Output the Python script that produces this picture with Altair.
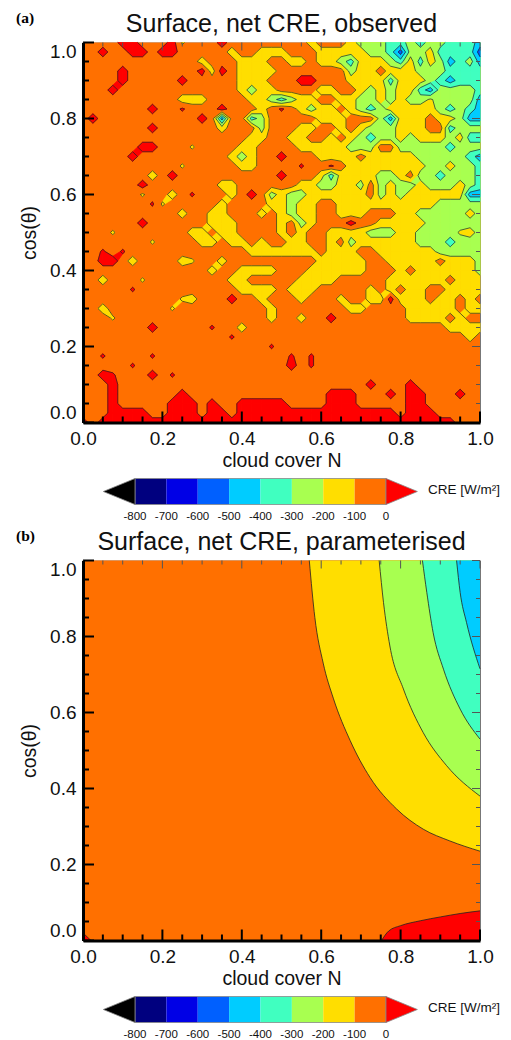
import altair as alt
import pandas as pd

alt.data_transformers.disable_max_rows()

# Panel (a): colour band read at each node of a 0.025 grid, top row cos=1.0 first.
# 0: >0, 1: -100..0, 2: -200..-100, 3: -300..-200, ... ; letters mark nodes only just
# inside a band (a: red, y: yellow, o: orange, w: yellow next to green).
BANDS_A = [
"1111001110y11101111"+"1111211123334434334445",
"1101100100111112112"+"2211122222334633244446",
"1111111111112111222"+"1122122342223424235435",
"1111011111110201222"+"2111111132212223334444",
"1111011111011111222"+"1110011122224222345444",
"1110111111111111232"+"2111122112323224533334",
"1111111111222111122"+"3432211223323233w33335",
"1111111011a11101112"+"1a12322123432222234345",
"1011111111110151143"+"1111122211135222122355",
"1111111011111121113"+"1112211212333222114333",
"1111111111111111122"+"1122112123433232223244",
"11111100111y1111221"+"1112222233311333334333",
"1111101111111112321"+"1011122221222223333345",
"1111111111y11111221"+"111a11a122222222332334",
"1111111210111111111"+"1011124222233213343334",
"1111110111111122111"+"1112233223132332333234",
"111111y1121a1112101"+"3233222222132322222255",
"1111111ay1111121111"+"2232211222222222233333",
"1111111111211221112"+"1232211222111223333323",
"1111110111111222111"+"1213211101122222333333",
"111y111111122122111"+"1212112222333223333w23",
"1111111y11112212212"+"1122112132222223334333",
"11a1a11111111111122"+"2222212221122222233333",
"11001211112y1121111"+"1111122222112222212223",
"1111111111111211222"+"2111222222111212222223",
"112111y111111112211"+"1112222111112222221222",
"11111a1111111111222"+"2122211111212122112222",
"1111111111y21110112"+"1112111211220222122121",
"112111111y111111111"+"2111111122111122222122",
"111y111111111111111"+"2112110111111122221211",
"1111111011111a11211"+"1111111111111111112222",
"111111111111111a111"+"1111111111111111111121",
"1111111111111111111"+"a111111111111111111111",
"11a1111a11111111111"+"11a1a11111111111111111",
"11111a1111111111111"+"1101a11111111111111111",
"110a11101a111111111"+"1111111111111111111111",
"1110111111111111111"+"1111111111011101111111",
"1110111111011111111"+"1111110001110100111011",
"1110111110001011000"+"0011110001111100111111",
"1110000110001001000"+"0000000000000100011111",
"0100000000000000000"+"0000000000000000000111",
]
NODE_VALUES = {"a": 15, "y": -115, "o": -85, "w": -185}
GRID_STEP = 0.025
LEVELS_A = [0, -100, -200, -300, -400, -500, -600, -700]
COLORS = ["#000000", "#00007f", "#0000e6", "#0060ff", "#00ccff", "#40ffc0",
          "#a8ff50", "#ffde00", "#ff7000", "#ff0000"]
CB_EDGES = [-800, -700, -600, -500, -400, -300, -200, -100, 0]
CB_LABELS = ["-800", "-700", "-600", "-500", "-400", "-300", "-200", "-100", "0"]
CB_TIP_L = -901
CB_TIP_R = 100

# Panel (b): contour curves as (cloud cover, cos) pairs.
C100_N = [0.57, 0.584, 0.605, 0.631, 0.673, 0.723, 0.79, 0.857, 0.924, 1.0]
C100_C = [1.0, 0.85, 0.73, 0.636, 0.526, 0.429, 0.346, 0.293, 0.262, 0.235]
C200_N = [0.746, 0.757, 0.773, 0.807, 0.857, 0.916, 1.0]
C200_C = [1.0, 0.889, 0.775, 0.662, 0.547, 0.46, 0.38]
C300_N = [0.855, 0.866, 0.882, 0.908, 0.95, 1.0]
C300_C = [1.0, 0.916, 0.81, 0.714, 0.609, 0.53]
C400_N = [0.941, 0.95, 0.966, 1.0]
C400_C = [1.0, 0.916, 0.837, 0.715]
C0_N = [0.752, 0.77, 0.8, 0.85, 0.9, 0.95, 1.0]
C0_C = [0.0, 0.025, 0.039, 0.052, 0.062, 0.071, 0.078]
CORNER_N = [0.0, 0.02]
CORNER_C = [0.02, 0.0]

X_MAJOR = [0.0, 0.2, 0.4, 0.6, 0.8, 1.0]
MINOR = [i / 20 for i in range(21) if i % 4 != 0]

W, H = 397, 380
CB_H = 26
sx = alt.Scale(domain=[0, 1], nice=False, zero=False)
sy = alt.Scale(domain=[0, 1], nice=False, zero=False)


def node_value(ch):
    if ch in NODE_VALUES:
        return NODE_VALUES[ch]
    return 50 - 100 * int(ch)


def clip_cells(rows, t, above):
    polys, segs = [], []
    n = len(rows)
    m = len(rows[0])
    inside = (lambda v: v > t) if above else (lambda v: v < t)
    pid = 0
    for r in range(n - 1):
        for c in range(m - 1):
            corners = [(r, c), (r, c + 1), (r + 1, c + 1), (r + 1, c)]
            vals = [node_value(rows[a][b]) for a, b in corners]
            flags = [inside(v) for v in vals]
            if not any(flags):
                continue
            pts, cross = [], []
            for k in range(4):
                a, b = corners[k], corners[(k + 1) % 4]
                va, vb = vals[k], vals[(k + 1) % 4]
                xa, ya = a[1] * GRID_STEP, 1 - a[0] * GRID_STEP
                xb, yb = b[1] * GRID_STEP, 1 - b[0] * GRID_STEP
                if flags[k]:
                    pts.append((xa, ya))
                if flags[k] != flags[(k + 1) % 4]:
                    f = (t - va) / (vb - va)
                    p = (xa + f * (xb - xa), ya + f * (yb - ya))
                    pts.append(p)
                    cross.append((p, flags[k]))
            for i, (x, y) in enumerate(pts + pts[:1]):
                polys.append({"x": x, "y": y, "p": pid, "i": i})
            pid += 1
            for j in range(0, len(cross) - 1, 2):
                p, q = cross[j][0], cross[j + 1][0]
                segs.append({"x": p[0], "y": p[1], "x2": q[0], "y2": q[1]})
    return polys, segs


def axis_layers():
    rows_x = pd.DataFrame({"v": X_MAJOR})
    rows_m = pd.DataFrame({"v": MINOR})
    out = []
    for data, ln, ln2 in ((rows_x, 11, 8), (rows_m, 6, 4)):
        base = alt.Chart(data)
        out += [
            base.mark_rule(color="#000000", strokeWidth=2).encode(
                x=alt.X("v:Q", scale=sx), y=alt.value(H), y2=alt.value(H - ln)),
            base.mark_rule(color="#000000", strokeWidth=2).encode(
                y=alt.Y("v:Q", scale=sy), x=alt.value(0), x2=alt.value(ln)),
            base.mark_rule(color="#555555", strokeWidth=1).encode(
                x=alt.X("v:Q", scale=sx), y=alt.value(0), y2=alt.value(ln2)),
            base.mark_rule(color="#555555", strokeWidth=1).encode(
                y=alt.Y("v:Q", scale=sy), x=alt.value(W), x2=alt.value(W - ln2)),
        ]
    return out


def frame():
    df = pd.DataFrame({"x": [0, 1], "y": [0, 1]})
    return alt.Chart(df).mark_rect(color="#ff7000").encode(
        x=alt.X("min(x):Q", scale=sx, axis=alt.Axis(
            values=X_MAJOR, format=".1f", title="cloud cover N", grid=False, ticks=False,
            domainWidth=3, domainColor="#000000", zindex=1, labelFontSize=19,
            labelColor="#111111", labelFont="Liberation Sans", labelPadding=7,
            labelFlush=False, labelOverlap=False,
            titleFontSize=19.5, titleFont="Liberation Sans", titleFontWeight="normal",
            titleColor="#111111", titlePadding=3)),
        x2="max(x):Q",
        y=alt.Y("min(y):Q", scale=sy, axis=alt.Axis(
            values=X_MAJOR, format=".1f", title="cos(θ)", grid=False, ticks=False,
            domainWidth=3, domainColor="#000000", zindex=1, labelFontSize=19,
            labelColor="#111111", labelFont="Liberation Sans", labelFlush=True,
            labelFlushOffset=0, labelPadding=7,
            titleFontSize=19.5, titleFont="Liberation Sans", titleFontWeight="normal",
            titleColor="#111111", titlePadding=10)),
        y2="max(y):Q",
    )


def heading(title, tag):
    t = alt.Chart(pd.DataFrame({"t": [title]})).mark_text(
        font="Liberation Sans", fontSize=25, color="#111111", align="center", baseline="middle"
    ).encode(text="t:N", x=alt.value(W / 2), y=alt.value(-18.5))
    g = alt.Chart(pd.DataFrame({"t": [tag]})).mark_text(
        font="Liberation Serif", fontWeight="bold", fontSize=15.5, color="#000000", align="left",
        baseline="middle"
    ).encode(text="t:N", x=alt.value(-67), y=alt.value(-25))
    return [t, g]


def poly_layer(polys, color):
    return alt.Chart(pd.DataFrame(polys)).mark_line(
        fill=color, stroke=color, strokeWidth=0.8
    ).encode(
        x=alt.X("x:Q", scale=sx), y=alt.Y("y:Q", scale=sy), detail="p:N", order="i:Q"
    )


def panel_a():
    layers = [frame()]
    all_segs = []
    band_colors = {0: "#ff7000", -100: "#ffde00", -200: "#a8ff50", -300: "#40ffc0",
                   -400: "#00ccff", -500: "#0060ff", -600: "#0000e6", -700: "#00007f"}
    for t in LEVELS_A:
        if t == 0:
            polys, segs = clip_cells(BANDS_A, 0, True)
            color = "#ff0000"
        else:
            polys, segs = clip_cells(BANDS_A, t, False)
            color = band_colors[t]
        all_segs += segs
        if polys:
            layers.append(poly_layer(polys, color))
    layers.append(alt.Chart(pd.DataFrame(all_segs)).mark_rule(
        color="#222222", strokeWidth=0.7
    ).encode(x=alt.X("x:Q", scale=sx), y=alt.Y("y:Q", scale=sy), x2="x2:Q", y2="y2:Q"))
    layers += axis_layers() + heading("Surface, net CRE, observed", "(a)")
    return alt.layer(*layers).properties(
        width=W, height=H, view=alt.ViewBackground(stroke="#777777", strokeWidth=1))


def curve(ns, cs, color, upper=True):
    df = pd.DataFrame({"x": ns, "y": cs, "y2": [1.0 if upper else 0.0] * len(ns)})
    base = alt.Chart(df)
    area = base.mark_area(color=color, interpolate="monotone").encode(
        x=alt.X("x:Q", scale=sx), y=alt.Y("y:Q", scale=sy), y2="y2:Q")
    line = base.mark_line(color="#222222", strokeWidth=0.8, interpolate="monotone").encode(
        x=alt.X("x:Q", scale=sx), y=alt.Y("y:Q", scale=sy))
    return [area, line]


def panel_b():
    layers = [frame()]
    layers += curve(C100_N, C100_C, "#ffde00")
    layers += curve(C200_N, C200_C, "#a8ff50")
    layers += curve(C300_N, C300_C, "#40ffc0")
    layers += curve(C400_N, C400_C, "#00ccff")
    layers += curve(C0_N, C0_C, "#ff0000", upper=False)
    layers += curve(CORNER_N, CORNER_C, "#ff0000", upper=False)
    layers += axis_layers() + heading("Surface, net CRE, parameterised", "(b)")
    return alt.layer(*layers).properties(
        width=W, height=H, view=alt.ViewBackground(stroke="#777777", strokeWidth=1))


def colorbar():
    cbx = alt.Scale(domain=[-965.7, 299.6], nice=False, zero=False)
    cby = alt.Scale(domain=[0, 1], nice=False, zero=False)
    rect_df = pd.DataFrame({
        "a": CB_EDGES[:-1], "b": CB_EDGES[1:], "c": COLORS[1:9]})
    rects = alt.Chart(rect_df).mark_rect().encode(
        x=alt.X("a:Q", scale=cbx, axis=None), x2="b:Q",
        y=alt.value(0), y2=alt.value(CB_H),
        color=alt.Color("c:N", scale=None, legend=None))
    tips = []
    for edge, tip, col in ((CB_EDGES[0], CB_TIP_L, COLORS[0]), (CB_EDGES[-1], CB_TIP_R, COLORS[9])):
        df = pd.DataFrame({"x": [edge, tip, edge, edge], "y": [1, 0.5, 0, 1], "i": [0, 1, 2, 3]})
        tips.append(alt.Chart(df).mark_line(fill=col, stroke="#888888", strokeWidth=0.8).encode(
            x=alt.X("x:Q", scale=cbx, axis=None), y=alt.Y("y:Q", scale=cby, axis=None), order="i:Q"))
    frame_df = pd.DataFrame({"a": [CB_EDGES[0]], "b": [CB_EDGES[-1]]})
    outline = alt.Chart(frame_df).mark_rect(fillOpacity=0, stroke="#888888", strokeWidth=0.8).encode(
        x=alt.X("a:Q", scale=cbx, axis=None), x2="b:Q", y=alt.value(0), y2=alt.value(CB_H))
    labels = alt.Chart(pd.DataFrame({"v": CB_EDGES, "t": CB_LABELS})).mark_text(
        font="Liberation Sans", fontSize=11.5, color="#111111", baseline="middle"
    ).encode(x=alt.X("v:Q", scale=cbx, axis=None), y=alt.value(CB_H + 12), text="t:N")
    unit = alt.Chart(pd.DataFrame({"t": ["CRE [W/m²]"]})).mark_text(
        font="Liberation Sans", fontSize=13.5, color="#111111", align="left", baseline="middle"
    ).encode(text="t:N", x=alt.value(345), y=alt.value(11))
    return alt.layer(rects, outline, *tips, labels, unit).properties(
        width=W, height=CB_H, view=alt.ViewBackground(stroke=None))


chart = alt.vconcat(
    panel_a(), colorbar(), panel_b(), colorbar(), spacing=56, bounds="flush"
).resolve_scale(color="independent").properties(
    padding={"left": 7, "top": 1.5, "right": 0, "bottom": 0}, background="#ffffff"
).configure_view(stroke=None)

chart.save("out.html", embed_options={"renderer": "svg", "actions": False})
